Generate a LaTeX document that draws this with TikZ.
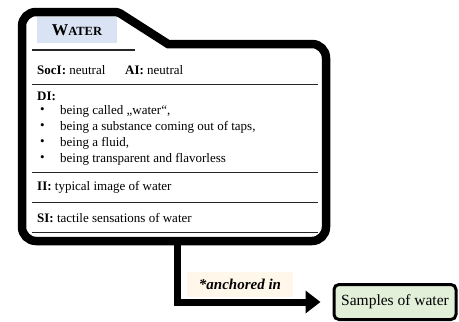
\documentclass[tikz,border=0pt]{standalone}
\usepackage{fontspec}
\setmainfont{Liberation Serif}
\usetikzlibrary{arrows.meta}
\definecolor{titleblue}{HTML}{DAE3F3}
\definecolor{labelcream}{HTML}{FFF8EA}
\definecolor{samplegreen}{HTML}{E2EFD9}
\begin{document}
\begin{tikzpicture}[x=1pt, y=-1pt,
    txt/.style={anchor=west, inner sep=0pt, font=\fontsize{13}{15}\selectfont},
    rule/.style={line width=1pt, black!85}]
\useasboundingbox (0,0) rectangle (459,322);
% folder outline
\draw[line width=8.5pt] (22,120) [rounded corners=14pt] -- (22,12)
    [rounded corners=3pt] -- (118,12) [sharp corners] -- (168,44)
    [rounded corners=14pt] -- (326,44) -- (326,241) -- (22,241) -- cycle;

\node[fill=titleblue, minimum width=80pt, minimum height=26pt, inner sep=0pt] (title) at (77,30)
    {\fontsize{16.5}{18}\selectfont\textbf{W\fontsize{12.5}{14}\selectfont ATER}};
\draw[rule, line width=1.3pt] (32,50) -- (135,50);

\node[txt] (soci) at (37,70) {\textbf{SocI:} neutral};
\node[txt] (ai) at (125,70) {\textbf{AI:} neutral};
\draw[rule] (32,84) -- (318,84);

\node[txt] (di) at (37,96) {\textbf{DI:}};
\node[txt] (b1) at (40,111) {•}; \node[txt] (d1) at (60,111) {being called „water“,};
\node[txt] (b2) at (40,127) {•}; \node[txt] (d2) at (60,127) {being a substance coming out of taps,};
\node[txt] (b3) at (40,143) {•}; \node[txt] (d3) at (60,143) {being a fluid,};
\node[txt] (b4) at (40,159) {•}; \node[txt] (d4) at (60,159) {being transparent and flavorless};
\draw[rule] (32,172) -- (318,172);

\node[txt] (ii) at (37,187) {\textbf{II:} typical image of water};
\draw[rule] (32,202) -- (318,202);

\node[txt] (si) at (37,218) {\textbf{SI:} tactile sensations of water};
\draw[rule] (32,232) -- (318,232);

% anchoring
\coordinate (foot) at (177,241);
\node[draw, line width=3pt, rounded corners=5pt, fill=samplegreen, minimum width=122pt,
    minimum height=35pt, inner sep=2pt, font=\fontsize{15.5}{17}\selectfont] (samples) at (395,302) {Samples of water};
\node[fill=labelcream, minimum width=106pt, minimum height=25pt, inner sep=0pt,
    font=\fontsize{15}{17}\selectfont\bfseries\itshape] (anch) at (240,284) {*anchored in};
\draw[line width=7pt, -{Triangle[length=15pt, width=22pt]}, shorten >=12pt] (foot) |- (samples.west);
\end{tikzpicture}
\end{document}
